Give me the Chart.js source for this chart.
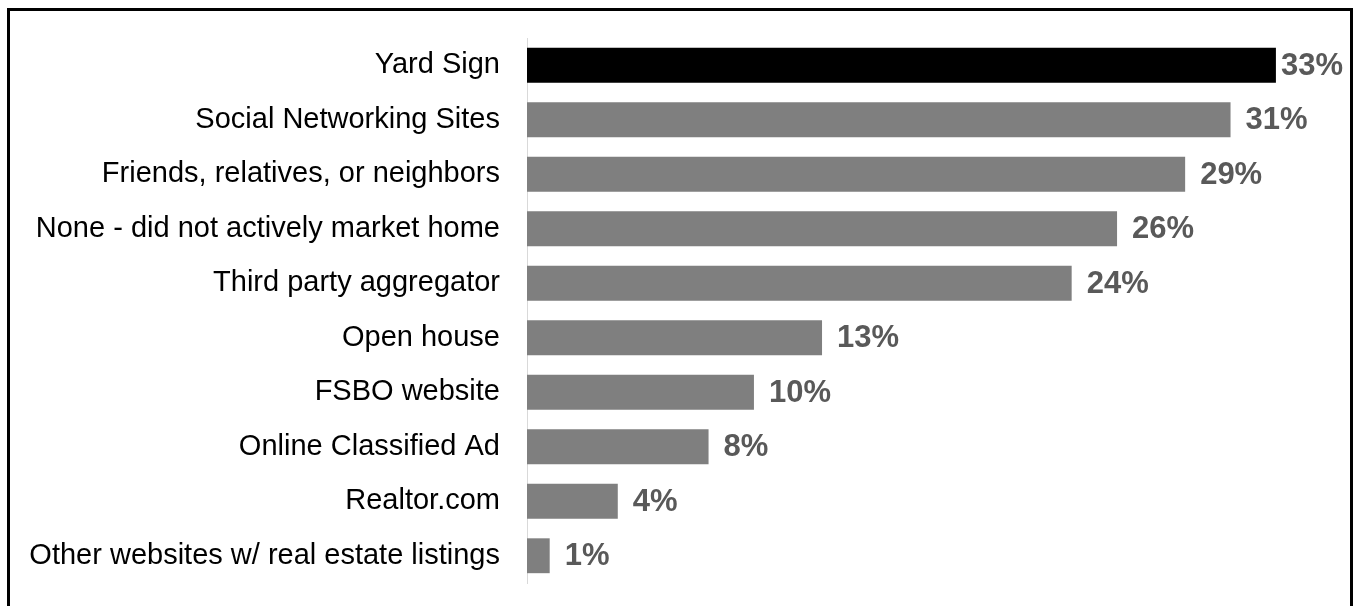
<!DOCTYPE html>
<html>
<head>
<meta charset="utf-8">
<script src="https://cdn.jsdelivr.net/npm/chart.js@4.4.0/dist/chart.umd.min.js"></script>
<style>
html,body{margin:0;padding:0;background:#fff;}
#wrap{position:absolute;left:0;top:0;width:1353px;height:606px;}
</style>
</head>
<body>
<div id="wrap"><canvas id="c" width="1353" height="606"></canvas></div>
<script>
const categories = [
  "Yard Sign",
  "Social Networking Sites",
  "Friends, relatives, or neighbors",
  "None - did not actively market home",
  "Third party aggregator",
  "Open house",
  "FSBO website",
  "Online Classified Ad",
  "Realtor.com",
  "Other websites w/ real estate listings"
];
const values = [33, 31, 29, 26, 24, 13, 10, 8, 4, 1];
const valueLabels = ["33%", "31%", "29%", "26%", "24%", "13%", "10%", "8%", "4%", "1%"];
const barColors = ["#000000", "#7f7f7f", "#7f7f7f", "#7f7f7f", "#7f7f7f", "#7f7f7f", "#7f7f7f", "#7f7f7f", "#7f7f7f", "#7f7f7f"];

const FONT = "'Liberation Sans', Arial, sans-serif";

const borderPlugin = {
  id: 'frame',
  afterDraw(chart) {
    const ctx = chart.ctx;
    ctx.save();
    ctx.strokeStyle = '#000';
    ctx.lineWidth = 3;
    ctx.beginPath();
    ctx.moveTo(8.5, 606);
    ctx.lineTo(8.5, 9.5);
    ctx.lineTo(1351.5, 9.5);
    ctx.lineTo(1351.5, 606);
    ctx.stroke();
    ctx.restore();
  }
};

const labelPlugin = {
  id: 'valLabels',
  afterDatasetsDraw(chart) {
    const ctx = chart.ctx;
    const meta = chart.getDatasetMeta(0);
    ctx.save();
    ctx.font = "bold 31px " + FONT;
    ctx.fillStyle = '#595959';
    ctx.textAlign = 'left';
    ctx.textBaseline = 'middle';
    meta.data.forEach((bar, i) => {
      const t = valueLabels[i];
      const w = ctx.measureText(t).width;
      let x = bar.x + 15;
      if (x + w > 1343) x = 1343 - w;
      ctx.fillText(t, x, bar.y + 1);
    });
    ctx.restore();
  }
};

new Chart(document.getElementById('c'), {
  type: 'bar',
  data: {
    labels: categories,
    datasets: [{
      data: values,
      backgroundColor: barColors,
      borderWidth: 0,
      categoryPercentage: 1,
      barPercentage: 0.64
    }]
  },
  options: {
    indexAxis: 'y',
    responsive: false,
    animation: false,
    devicePixelRatio: 1,
    layout: { padding: { top: 38, bottom: 23, left: 0, right: 9 } },
    plugins: { legend: { display: false }, tooltip: { enabled: false } },
    scales: {
      x: {
        display: false,
        min: 0,
        max: 36
      },
      y: {
        afterFit(scale) { scale.width = 527; },
        grid: { display: false, drawTicks: true, tickLength: 27, tickColor: 'rgba(0,0,0,0)' },
        border: { display: true, color: '#d9d9d9', width: 1 },
        ticks: {
          padding: 0,
          color: '#000',
          font: { family: FONT, size: 29 },
          autoSkip: false
        }
      }
    }
  },
  plugins: [borderPlugin, labelPlugin]
});
</script>
</body>
</html>
